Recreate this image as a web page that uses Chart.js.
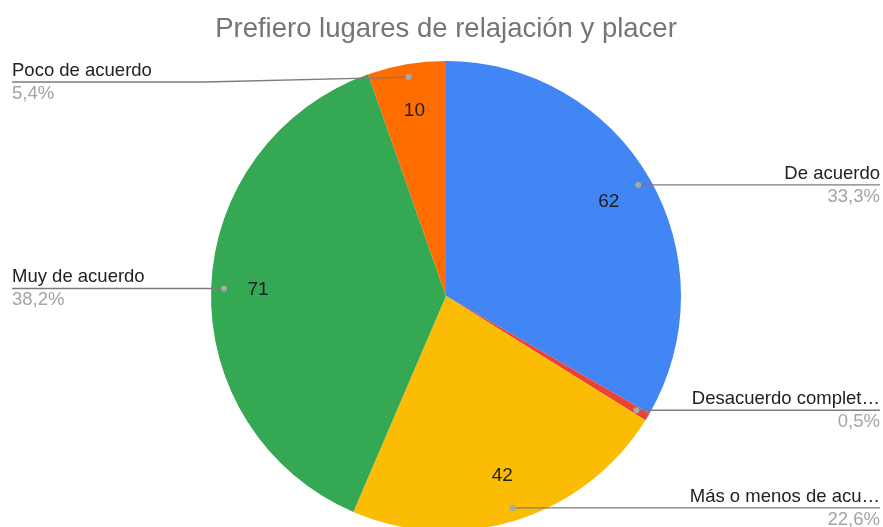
<!DOCTYPE html>
<html>
<head>
<meta charset="utf-8">
<script src="https://cdn.jsdelivr.net/npm/chart.js@4.4.1/dist/chart.umd.min.js"></script>
<style>
  html, body { margin: 0; padding: 0; background: #ffffff; overflow: hidden; }
  #wrap { position: relative; width: 883px; height: 540px; }
</style>
</head>
<body>
<div id="wrap"><canvas id="c" width="883" height="540"></canvas></div>
<script>
const chartTitle = 'Prefiero lugares de relajación y placer';
const categories = ['De acuerdo', 'Desacuerdo completamente', 'Más o menos de acuerdo', 'Muy de acuerdo', 'Poco de acuerdo'];
const values = [62, 1, 42, 71, 10];
const sliceColors = ['#4285F4', '#EA4335', '#FBBC04', '#34A853', '#FF6D01'];

const FONT = '"Liberation Sans", Arial, sans-serif';
const total = values.reduce((a, b) => a + b, 0);
const pctText = v => (v / total * 100).toFixed(1).replace('.', ',') + '%';

function fitText(ctx, text, maxW) {
  if (ctx.measureText(text).width <= maxW) return text;
  let t = text;
  while (t.length > 1 && ctx.measureText(t + '…').width > maxW) t = t.slice(0, -1);
  return t.replace(/\s+$/, '') + '…';
}

const leaderPlugin = {
  id: 'leaders',
  afterDatasetsDraw(chart) {
    const ctx = chart.ctx;
    const meta = chart.getDatasetMeta(0);
    const leftX = 12, rightX = 880, minLineY = 82;
    ctx.save();
    meta.data.forEach((arc, i) => {
      const p = arc.getProps(['x', 'y', 'startAngle', 'endAngle', 'outerRadius'], true);
      const mid = (p.startAngle + p.endAngle) / 2;
      const c = Math.cos(mid), s = Math.sin(mid);
      const R = p.outerRadius;
      // value label inside slice
      if (values[i] / total > 0.02) {
        ctx.fillStyle = '#1f1f1f';
        ctx.font = '19px ' + FONT;
        ctx.textAlign = 'center';
        ctx.textBaseline = 'middle';
        ctx.fillText(String(values[i]), p.x + c * R * 0.80, p.y + s * R * 0.80);
      }
      // leader line
      const dx = p.x + c * R * 0.945, dy = p.y + s * R * 0.945;
      const right = c >= 0;
      const lineY = Math.max(dy, minLineY);
      const edgeX = right ? rightX : leftX;
      ctx.strokeStyle = '#7c7c7c';
      ctx.lineWidth = 1.3;
      ctx.beginPath();
      ctx.moveTo(dx, dy);
      if (lineY !== dy) {
        const bendX = right ? p.x + R + 5 : p.x - R - 6;
        ctx.lineTo(bendX, lineY);
      }
      ctx.lineTo(edgeX, lineY);
      ctx.stroke();
      ctx.fillStyle = '#a8a8a8';
      ctx.beginPath();
      ctx.arc(dx, dy, 3, 0, Math.PI * 2);
      ctx.fill();
      // texts
      ctx.textAlign = right ? 'right' : 'left';
      ctx.textBaseline = 'alphabetic';
      ctx.font = '18.5px ' + FONT;
      ctx.fillStyle = '#222222';
      ctx.fillText(fitText(ctx, categories[i], 195), edgeX, lineY - 6);
      ctx.fillStyle = '#a3a3a3';
      ctx.fillText(pctText(values[i]), edgeX, lineY + 17);
    });
    ctx.restore();
  }
};

new Chart(document.getElementById('c'), {
  type: 'pie',
  data: {
    labels: categories,
    datasets: [{
      data: values,
      backgroundColor: sliceColors,
      borderWidth: 0,
      hoverOffset: 0,
      offset: 0
    }]
  },
  options: {
    responsive: false,
    animation: false,
    layout: { padding: { left: 211, right: 202, top: 0, bottom: 9 } },
    plugins: {
      legend: { display: false },
      tooltip: { enabled: false },
      title: {
        display: true,
        text: chartTitle,
        color: '#757575',
        font: { family: FONT, size: 27.5, weight: 'normal', lineHeight: 1.2 },
        padding: { top: 13, bottom: 15 }
      }
    }
  },
  plugins: [leaderPlugin]
});
</script>
</body>
</html>
